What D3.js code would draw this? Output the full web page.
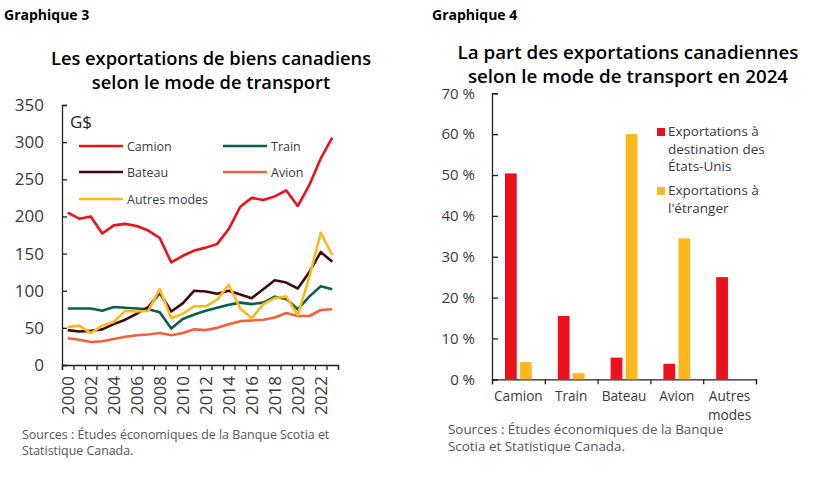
<!DOCTYPE html>
<html>
<head>
<meta charset="utf-8">
<script src="https://cdn.jsdelivr.net/npm/d3@7"></script>
<style>
  body { margin: 0; background: #fff; }
  text { font-family: "Open Sans", sans-serif; }
</style>
</head>
<body>
<script>
// Graphique 3 : exportations de biens par mode de transport (G$)
var years = d3.range(2000, 2024);
var camion = [205, 197, 200, 177, 188, 190, 187, 181, 171, 138, 147, 154, 158, 163, 183, 213, 225, 222, 227, 235, 214, 242, 278, 306];
var train  = [76, 76, 76, 73, 78, 77, 76, 75, 71, 49, 62, 68, 73, 77, 81, 84, 82, 84, 92, 89, 75, 92, 106, 102];
var bateau = [47, 45, 46, 48, 55, 61, 69, 78, 97, 72, 83, 100, 99, 96, 100, 95, 90, 102, 114, 111, 103, 125, 152, 139];
var avion  = [36, 34, 31, 32, 35, 38, 40, 41, 43, 40, 43, 48, 47, 50, 55, 59, 60, 61, 64, 70, 66, 66, 74, 75];
var autres = [51, 53, 43, 53, 58, 73, 72, 73, 102, 63, 69, 79, 79, 88, 108, 76, 63, 82, 90, 92, 67, 118, 178, 148];
var seriesNames = ["Camion", "Train", "Bateau", "Avion", "Autres modes"];
var seriesColors = ["#ec111a", "#0b5e4b", "#3f0b0b", "#f4603b", "#ffb81c"];
var yTicks3 = [0, 50, 100, 150, 200, 250, 300, 350];

// Graphique 4 : part des exportations selon le mode (%)
var modes = ["Camion", "Train", "Bateau", "Avion", "Autres modes"];
var partEU = [50.4, 15.5, 5.3, 3.8, 25.0];
var partEtranger = [4.2, 1.5, 60.0, 34.5, 0];
var barNames = ["Exportations à destination des États-Unis", "Exportations à l'étranger"];
var barColors = ["#ec111a", "#ffb81c"];
var yTicks4 = [0, 10, 20, 30, 40, 50, 60, 70];

var svg = d3.select("body").append("svg")
  .attr("width", 828).attr("height", 483);

var axisColor = "#222";
var labelColor = "#3a3a3a";

// ---------- Graphique 3 ----------
svg.append("text").attr("x", 4).attr("y", 20)
  .attr("font-size", 14).attr("font-weight", 700).text("Graphique 3");
svg.append("text").attr("x", 211).attr("y", 65).attr("text-anchor", "middle")
  .attr("font-size", 18.3).attr("font-weight", 600).text("Les exportations de biens canadiens");
svg.append("text").attr("x", 211).attr("y", 89).attr("text-anchor", "middle")
  .attr("font-size", 18.3).attr("font-weight", 600).text("selon le mode de transport");

var x3 = d3.scaleBand().domain(years).range([62, 338]);
var x3lin = d3.scaleLinear().domain([0, years.length]).range([62, 338]);
var y3 = d3.scaleLinear().domain([0, 350]).range([365, 105]);

var gy3 = svg.append("g").attr("transform", "translate(62,0)")
  .call(d3.axisLeft(y3).tickValues(yTicks3).tickSize(-5).tickPadding(18));
gy3.selectAll("text").attr("font-size", 17).attr("fill", labelColor).attr("font-family", "Open Sans");

// axe des x : traits entre les années, étiquettes une année sur deux
var gx3 = svg.append("g").attr("transform", "translate(0,365)")
  .call(d3.axisBottom(x3lin).ticks(24).tickSize(5).tickFormat(""));
var gx3lab = svg.append("g").attr("transform", "translate(0,365)")
  .call(d3.axisBottom(x3).tickValues(years.filter(function(d){ return d % 2 === 0; })).tickSize(0));
gx3lab.select(".domain").remove();
gx3lab.selectAll("text")
  .attr("font-size", 17).attr("fill", labelColor).attr("font-family", "Open Sans")
  .attr("transform", "rotate(-90)")
  .attr("text-anchor", "end")
  .attr("x", -11).attr("y", 0).attr("dy", "0.35em");

[gy3, gx3].forEach(function(g){
  g.selectAll("path, line").attr("stroke", axisColor).attr("stroke-width", 1.3);
});

svg.append("text").attr("x", 70).attr("y", 128)
  .attr("font-size", 17).attr("fill", "#222").text("G$");

var line3 = d3.line()
  .x(function(d, i){ return x3(years[i]) + x3.bandwidth() / 2; })
  .y(function(d){ return y3(d); });

var allSeries = [camion, train, bateau, avion, autres];
// ordre de dessin : Avion, Train, Bateau, Autres, Camion
[3, 1, 2, 4, 0].forEach(function(k){
  svg.append("path").datum(allSeries[k])
    .attr("d", line3).attr("fill", "none")
    .attr("stroke", seriesColors[k]).attr("stroke-width", 2.6)
    .attr("stroke-linejoin", "round");
});

// légende
var legPos = [[79, 146], [223, 146], [79, 172], [223, 172], [79, 199]];
seriesNames.forEach(function(name, k){
  var p = legPos[k];
  svg.append("line").attr("x1", p[0]).attr("x2", p[0] + 44)
    .attr("y1", p[1]).attr("y2", p[1])
    .attr("stroke", seriesColors[k]).attr("stroke-width", 2.6);
  svg.append("text").attr("x", p[0] + 48).attr("y", p[1] + 4.5)
    .attr("font-size", 12.5).attr("fill", labelColor).text(name);
});

svg.append("text").attr("x", 22).attr("y", 439).attr("font-size", 12.4).attr("fill", "#555")
  .text("Sources : Études économiques de la Banque Scotia et");
svg.append("text").attr("x", 22).attr("y", 455).attr("font-size", 12.4).attr("fill", "#555")
  .text("Statistique Canada.");

// ---------- Graphique 4 ----------
svg.append("text").attr("x", 432).attr("y", 20)
  .attr("font-size", 14).attr("font-weight", 700).text("Graphique 4");
svg.append("text").attr("x", 628).attr("y", 59).attr("text-anchor", "middle")
  .attr("font-size", 18.8).attr("font-weight", 600).text("La part des exportations canadiennes");
svg.append("text").attr("x", 628).attr("y", 83).attr("text-anchor", "middle")
  .attr("font-size", 18.8).attr("font-weight", 600).text("selon le mode de transport en 2024");

var x4 = d3.scaleBand().domain(modes).range([492, 756]);
var bw = x4.bandwidth();
var x4sub = d3.scaleBand().domain([0, 1]).range([bw / 2 - 13.4, bw / 2 + 13.4]).paddingInner(0.22);
var y4 = d3.scaleLinear().domain([0, 70]).range([379.3, 93.3]);

var gy4 = svg.append("g").attr("transform", "translate(492,0)")
  .call(d3.axisLeft(y4).tickValues(yTicks4).tickSize(-6).tickPadding(17)
    .tickFormat(function(d){ return d + "\u00a0%"; }));
gy4.selectAll("text").attr("font-size", 15).attr("fill", labelColor).attr("font-family", "Open Sans");

var x4lin = d3.scaleLinear().domain([0, modes.length]).range([492, 756]);
var gx4 = svg.append("g").attr("transform", "translate(0,379.3)")
  .call(d3.axisBottom(x4lin).ticks(5).tickSize(5).tickFormat(""));
[gy4, gx4].forEach(function(g){
  g.selectAll("path, line").attr("stroke", axisColor).attr("stroke-width", 1.3);
});

// étiquettes des catégories (Autres modes sur deux lignes)
modes.forEach(function(m){
  m.split(" ").forEach(function(w, i){
    svg.append("text").attr("x", x4(m) + bw / 2).attr("y", 401 + i * 18.5)
      .attr("text-anchor", "middle").attr("font-size", 13.6).attr("fill", labelColor)
      .text(w);
  });
});

[partEU, partEtranger].forEach(function(vals, s){
  svg.append("g").selectAll("rect").data(vals).enter().append("rect")
    .attr("x", function(d, i){ return x4(modes[i]) + x4sub(s); })
    .attr("width", x4sub.bandwidth())
    .attr("y", function(d){ return y4(d); })
    .attr("height", function(d){ return y4(0) - y4(d); })
    .attr("fill", barColors[s]);
});

// légende
var legLines = [["Exportations à", "destination des", "États-Unis"], ["Exportations à", "l'étranger"]];
var legTop = [128, 187];
legLines.forEach(function(lines, s){
  svg.append("rect").attr("x", 657).attr("y", legTop[s]).attr("width", 8).attr("height", 8)
    .attr("fill", barColors[s]);
  lines.forEach(function(l, i){
    svg.append("text").attr("x", 668).attr("y", legTop[s] + 8 + i * 17.5)
      .attr("font-size", 13.5).attr("fill", labelColor).text(l);
  });
});

svg.append("text").attr("x", 448).attr("y", 434).attr("font-size", 13.4).attr("fill", "#555")
  .text("Sources : Études économiques de la Banque");
svg.append("text").attr("x", 448).attr("y", 451).attr("font-size", 13.4).attr("fill", "#555")
  .text("Scotia et Statistique Canada.");
</script>
</body>
</html>
